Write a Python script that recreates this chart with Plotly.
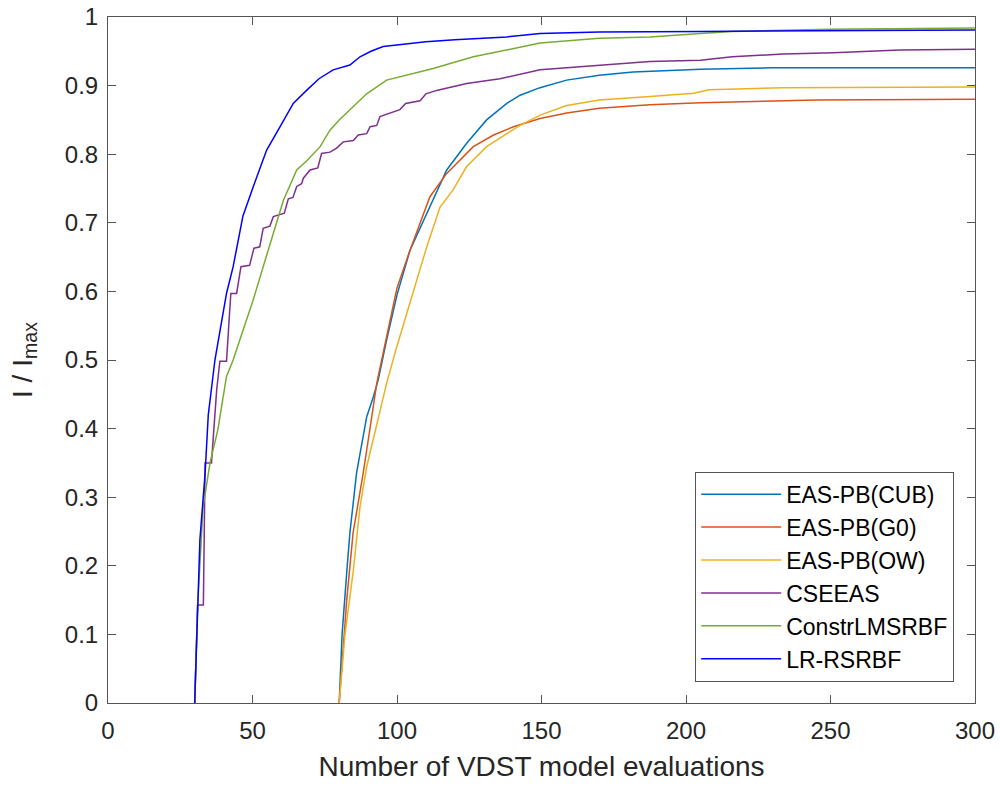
import plotly.graph_objects as go

# ---- data ----
cub_x = [80, 81, 82.6, 83.7, 86, 89.5, 91.8, 93.5, 96.4, 100, 104.5, 110.3, 117.2, 124.1, 131, 138, 142.6, 149.5, 158.7, 170, 181.7, 205, 230, 300]
cub_y = [0, 0.1, 0.19, 0.248, 0.335, 0.417, 0.446, 0.471, 0.529, 0.595, 0.66, 0.714, 0.777, 0.816, 0.85, 0.874, 0.886, 0.897, 0.908, 0.915, 0.92, 0.924, 0.926, 0.926]

g0_x = [80, 82.6, 84.8, 88.3, 91, 93, 95.2, 100, 104.5, 111.4, 117.2, 126.4, 133.4, 140.3, 149.5, 158.7, 170, 187.5, 205, 245, 300]
g0_y = [0, 0.15, 0.248, 0.335, 0.41, 0.466, 0.51, 0.605, 0.66, 0.738, 0.772, 0.811, 0.828, 0.84, 0.852, 0.86, 0.867, 0.872, 0.875, 0.879, 0.880]

ow_x = [80, 82, 84.8, 87.2, 89.5, 93, 96.4, 99.9, 105, 110.3, 114.9, 119.4, 124.1, 131, 138, 142.6, 149.5, 158.7, 170, 181.7, 187.5, 202.6, 208, 233.6, 268, 300]
ow_y = [0, 0.1, 0.19, 0.286, 0.344, 0.408, 0.466, 0.519, 0.59, 0.665, 0.723, 0.748, 0.782, 0.811, 0.83, 0.842, 0.857, 0.871, 0.879, 0.883, 0.884, 0.889, 0.894, 0.897, 0.898, 0.898]

cse_x = [30, 31, 33, 33.6, 35.8, 37.6, 38.7, 41, 42.5, 44.5, 46, 49, 50.5, 52.5, 53.7, 56, 57.2, 61, 62.4, 64, 65.3, 67, 67.6, 69.9, 72.6, 73.9, 76.8, 79.1, 81.4, 84.9, 86.6, 89.5, 90.7, 93, 94.1, 97.5, 98.7, 101, 103, 108, 110, 113.7, 124.1, 135.6, 149.5, 170, 187.5, 205, 216, 233.6, 251, 274, 300]
cse_y = [0, 0.143, 0.143, 0.35, 0.35, 0.456, 0.498, 0.498, 0.597, 0.597, 0.636, 0.638, 0.663, 0.665, 0.692, 0.695, 0.709, 0.714, 0.735, 0.737, 0.753, 0.757, 0.765, 0.777, 0.78, 0.801, 0.803, 0.809, 0.818, 0.82, 0.828, 0.83, 0.84, 0.842, 0.855, 0.86, 0.862, 0.865, 0.874, 0.878, 0.888, 0.893, 0.903, 0.91, 0.923, 0.93, 0.935, 0.937, 0.942, 0.946, 0.948, 0.952, 0.953]

con_x = [30, 31, 32.9, 35.3, 38, 41, 43.3, 45.7, 50.2, 53.7, 57.2, 60.7, 65.3, 68.7, 73.4, 76.8, 80, 84.9, 89.5, 96.4, 101, 112.5, 126.4, 138, 149.5, 170, 187.5, 205, 216, 250, 300]
con_y = [0, 0.14, 0.286, 0.35, 0.398, 0.476, 0.50, 0.53, 0.587, 0.636, 0.685, 0.733, 0.777, 0.79, 0.811, 0.835, 0.85, 0.869, 0.888, 0.908, 0.913, 0.925, 0.942, 0.952, 0.962, 0.969, 0.971, 0.976, 0.979, 0.982, 0.984]

lr_x = [30, 31, 31.8, 33.6, 34.7, 37, 38.7, 41, 43.3, 46.7, 50.2, 54.9, 59.5, 64.1, 68.7, 73, 77.9, 83.7, 87.2, 91, 95.2, 101, 110, 120, 138, 149.5, 170, 205, 240, 300]
lr_y = [0, 0.143, 0.238, 0.335, 0.42, 0.50, 0.54, 0.597, 0.636, 0.71, 0.752, 0.806, 0.84, 0.874, 0.893, 0.91, 0.923, 0.930, 0.942, 0.950, 0.957, 0.960, 0.964, 0.967, 0.971, 0.976, 0.978, 0.979, 0.980, 0.981]

x_ticks = [0, 50, 100, 150, 200, 250, 300]
y_ticks = [0, 0.1, 0.2, 0.3, 0.4, 0.5, 0.6, 0.7, 0.8, 0.9, 1]
y_tick_text = ["0", "0.1", "0.2", "0.3", "0.4", "0.5", "0.6", "0.7", "0.8", "0.9", "1"]

series = [
    ("EAS-PB(CUB)", cub_x, cub_y, "#0072BD"),
    ("EAS-PB(G0)", g0_x, g0_y, "#D95319"),
    ("EAS-PB(OW)", ow_x, ow_y, "#EDB120"),
    ("CSEEAS", cse_x, cse_y, "#7E2F8E"),
    ("ConstrLMSRBF", con_x, con_y, "#77AC30"),
    ("LR-RSRBF", lr_x, lr_y, "#0000FF"),
]

FONT = "Liberation Sans, Arial, sans-serif"

fig = go.Figure()
for name, xs, ys, col in series:
    fig.add_trace(go.Scatter(x=xs, y=ys, mode="lines", name=name,
                             line=dict(color=col, width=1.5)))

axis_common = dict(
    showgrid=False, zeroline=False, showline=True, linecolor="#555555", linewidth=1,
    mirror="ticks", ticks="inside", ticklen=8, tickcolor="#555555", tickwidth=1,
    automargin=False,
    tickfont=dict(family=FONT, size=24, color="#262626"),
)

fig.update_layout(
    width=1000, height=787,
    margin=dict(l=108, r=25, t=17, b=84),
    paper_bgcolor="white", plot_bgcolor="white",
    showlegend=True,
    legend=dict(x=0.976, y=0.031, xanchor="right", yanchor="bottom",
                bordercolor="#555555", borderwidth=1, bgcolor="white",
                font=dict(family=FONT, size=23, color="#000000"),
                tracegroupgap=0, itemwidth=80),
    xaxis=dict(range=[0, 300], tickvals=x_ticks, ticklabelstandoff=6,
               title=dict(text="Number of VDST model evaluations", standoff=13,
                          font=dict(family=FONT, size=28, color="#262626")),
               **axis_common),
    yaxis=dict(range=[0, 1], tickvals=y_ticks, ticktext=y_tick_text, ticklabelstandoff=4,
               title=dict(text="I / I<sub>max</sub>", standoff=24,
                          font=dict(family=FONT, size=28, color="#262626")),
               **axis_common),
)

fig.write_html("out.html", config={"displayModeBar": False},
               post_script="document.body.style.margin='0';document.body.style.overflow='hidden';")
